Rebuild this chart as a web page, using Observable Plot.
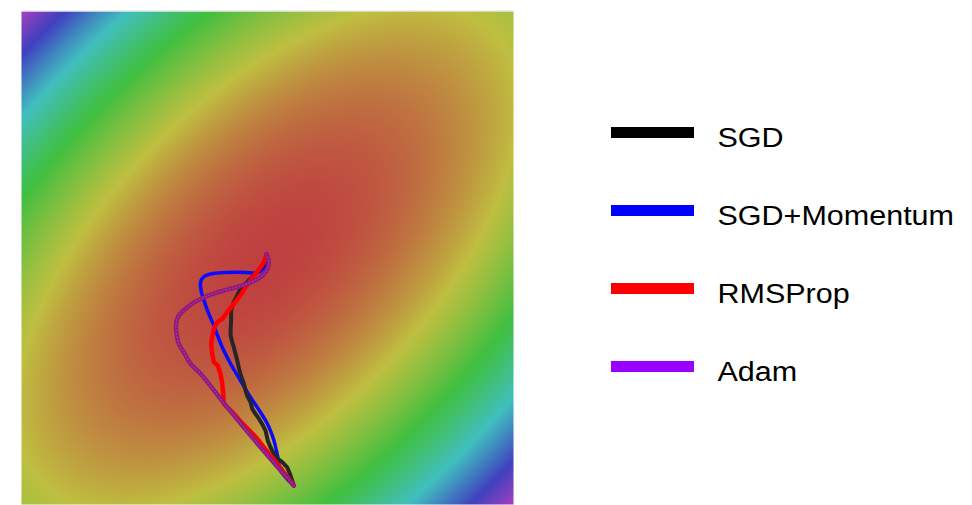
<!DOCTYPE html>
<html>
<head>
<meta charset="utf-8">
<script src="https://cdn.jsdelivr.net/npm/d3@7"></script>
<script src="https://cdn.jsdelivr.net/npm/@observablehq/plot@0.6"></script>
<style>
  html, body { margin: 0; padding: 0; background: #fff; }
  #wrap { position: relative; width: 972px; height: 505px; overflow: hidden; }
  #legend { position: absolute; left: 600px; top: 0; }
  #main svg, #legend svg { display: block; }
</style>
</head>
<body>
<div id="wrap"><div id="main"></div><div id="legend"></div></div>
<script>
// ---------- data ----------
// loss surface f(x, y) = a*x^2 + b*y^2 + c*x*y on [-1, 1] x [-1, 1]
const surfaceCoef = [1, 1, -1.2];
// loss values at the colour stops (red, yellow, green, cyan, blue, violet)
const levelValues = [0, 0.667, 1.333, 2, 2.667, 3.2];

const series = ["SGD", "SGD+Momentum", "RMSProp", "Adam"];

const sgdX = [0.107, 0.091, 0.080, 0.060, 0.042, 0.026, 0.012, 0.001, -0.008, -0.022, -0.035, -0.049, -0.062, -0.069, -0.083, -0.089, -0.096, -0.103, -0.110, -0.117, -0.123, -0.130, -0.137, -0.143, -0.150, -0.150, -0.148, -0.148, -0.137, -0.123, -0.110, -0.076, -0.042, -0.015, -0.004];
const sgdY = [-0.923, -0.875, -0.849, -0.828, -0.815, -0.794, -0.768, -0.740, -0.700, -0.673, -0.652, -0.632, -0.612, -0.585, -0.558, -0.538, -0.510, -0.490, -0.470, -0.443, -0.416, -0.389, -0.362, -0.342, -0.314, -0.294, -0.254, -0.213, -0.179, -0.152, -0.125, -0.091, -0.058, -0.024, 0.010];

const momX = [0.107, 0.073, 0.050, 0.042, 0.026, 0.012, -0.008, -0.042, -0.069, -0.110, -0.150, -0.184, -0.211, -0.218, -0.239, -0.256, -0.270, -0.272, -0.261, -0.239, -0.191, -0.123, -0.069, -0.042, -0.022, -0.008, -0.001, -0.004];
const momY = [-0.923, -0.889, -0.855, -0.808, -0.740, -0.700, -0.659, -0.605, -0.565, -0.497, -0.429, -0.362, -0.294, -0.274, -0.226, -0.179, -0.132, -0.098, -0.078, -0.067, -0.060, -0.058, -0.060, -0.060, -0.048, -0.030, -0.010, 0.010];

const rmsX = [0.107, 0.061, 0.006, -0.047, -0.100, -0.142, -0.178, -0.180, -0.184, -0.191, -0.202, -0.218, -0.225, -0.229, -0.225, -0.218, -0.204, -0.184, -0.164, -0.137, -0.110, -0.089, -0.069, -0.049, -0.028, -0.015, -0.004];
const rmsY = [-0.923, -0.862, -0.794, -0.727, -0.673, -0.626, -0.591, -0.551, -0.510, -0.470, -0.436, -0.423, -0.389, -0.348, -0.321, -0.287, -0.260, -0.247, -0.220, -0.186, -0.152, -0.118, -0.091, -0.064, -0.037, -0.017, 0.015];

const adamX = [0.107, -0.028, -0.164, -0.272, -0.313, -0.340, -0.361, -0.370, -0.372, -0.368, -0.354, -0.333, -0.300, -0.245, -0.178, -0.110, -0.056, -0.020, 0.000, 0.005, -0.004];
const adamY = [-0.923, -0.768, -0.605, -0.470, -0.429, -0.383, -0.347, -0.306, -0.278, -0.249, -0.225, -0.206, -0.181, -0.154, -0.132, -0.114, -0.093, -0.071, -0.043, -0.014, 0.015];

// ---------- styles ----------
const levelColors = ["#bf4040", "#bfbf40", "#40bf40", "#40bfbf", "#4040bf", "#a640bf"];
const legendColors = ["#000000", "#0000ff", "#ff0000", "#9900ff"];

const pts = (xs, ys) => xs.map((x, i) => ({x, y: ys[i]}));
const f = (x, y) => surfaceCoef[0] * x * x + surfaceCoef[1] * y * y + surfaceCoef[2] * x * y;

const main = Plot.plot({
  width: 972,
  height: 505,
  marginLeft: 21,
  marginRight: 459,
  marginTop: 11,
  marginBottom: 1,
  style: {background: "transparent"},
  x: {domain: [-1, 1], axis: null},
  y: {domain: [-1, 1], axis: null},
  color: {type: "linear", domain: levelValues, range: levelColors, clamp: true},
  marks: [
    Plot.raster({fill: (x, y) => f(x, y), x1: -1, x2: 1, y1: -1, y2: 1, imageRendering: "auto"}),
    Plot.ruleY([1], {stroke: "#dcdcdc", strokeWidth: 1, dy: -0.5}),
    Plot.line(pts(momX, momY), {x: "x", y: "y", stroke: "#0a0aff", strokeWidth: 3.5, curve: "catmull-rom"}),
    Plot.line(pts(sgdX, sgdY), {x: "x", y: "y", stroke: "#262626", strokeWidth: 4, curve: "linear", strokeLinejoin: "round"}),
    Plot.line(pts(rmsX, rmsY), {x: "x", y: "y", stroke: "#ff0000", strokeWidth: 4.5, curve: "linear", strokeLinejoin: "round"}),
    Plot.line(pts(adamX, adamY), {x: "x", y: "y", stroke: "#8e1a80", strokeWidth: 4.5, curve: "catmull-rom"}),
    Plot.line(pts(adamX, adamY), {x: "x", y: "y", stroke: "#b8489e", strokeWidth: 1, strokeDasharray: "1 2.5", curve: "catmull-rom"})
  ]
});
document.getElementById("main").appendChild(main);

const legend = Plot.plot({
  width: 372,
  height: 505,
  margin: 0,
  style: {background: "transparent", fontFamily: "'Liberation Sans', Arial, sans-serif"},
  x: {domain: [0, 1], range: [11, 94], axis: null},
  y: {type: "point", domain: series, range: [131.5, 365.5], padding: 0, axis: null},
  marks: [
    Plot.ruleY(series, {y: d => d, x1: 0, x2: 1, stroke: (d, i) => legendColors[i], strokeWidth: 11}),
    Plot.text(series, {y: d => d, x: () => 1, text: d => d, textAnchor: "start", lineAnchor: "bottom", dx: 23, dy: 14.5, fontSize: 27, fill: "#000"})
  ]
});
document.getElementById("legend").appendChild(legend);
legend.querySelectorAll("text").forEach(t => {
  const w = t.getComputedTextLength();
  t.setAttribute("textLength", (w * 1.13).toFixed(1));
  t.setAttribute("lengthAdjust", "spacingAndGlyphs");
});
</script>
</body>
</html>
